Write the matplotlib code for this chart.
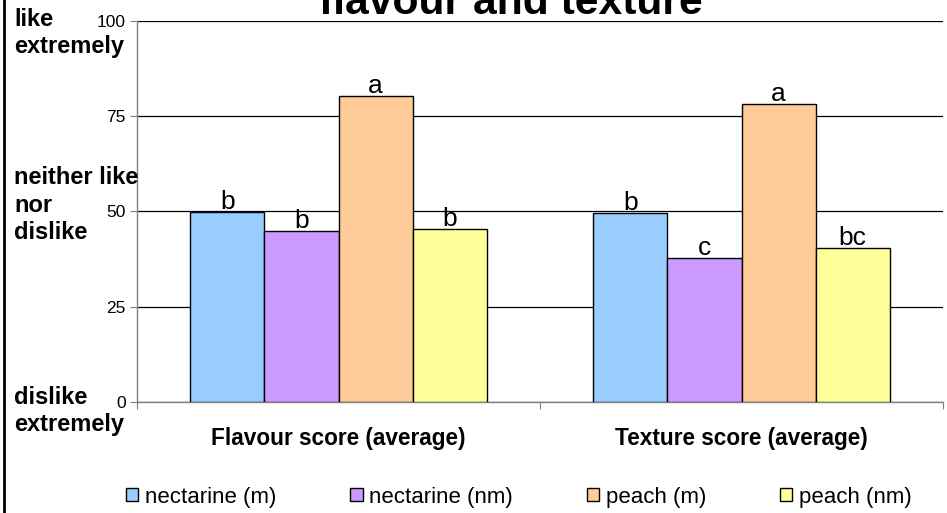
import matplotlib
matplotlib.use("Agg")
import matplotlib.pyplot as plt
import numpy as np
from matplotlib.lines import Line2D

plt.rcParams['font.family'] = ['Liberation Sans', 'DejaVu Sans']

categories = ["Flavour score (average)", "Texture score (average)"]
series = ["nectarine (m)", "nectarine (nm)", "peach (m)", "peach (nm)"]
values = {
    "nectarine (m)": [49.7, 49.6],
    "nectarine (nm)": [44.8, 37.8],
    "peach (m)": [80.2, 78.1],
    "peach (nm)": [45.3, 40.4],
}
letters = {
    "nectarine (m)": ["b", "b"],
    "nectarine (nm)": ["b", "c"],
    "peach (m)": ["a", "a"],
    "peach (nm)": ["b", "bc"],
}
colors = ["#99CCFF", "#CC99FF", "#FFCC99", "#FFFF99"]
yticks = [0, 25, 50, 75, 100]
side_labels = ["like\nextremely", "neither like\nnor\ndislike", "dislike\nextremely"]
side_label_y_px = [33, 205, 411]  # centre of each label block, px from top

W, H = 947, 513
fig = plt.figure(figsize=(W/100, H/100), dpi=100)
ax = fig.add_axes([137/W, 1-402/H, (943-137)/W, (402-20.7)/H])

x = np.arange(len(categories))
n = len(series)
group_w = 0.735
bw = group_w / n
for i, s in enumerate(series):
    pos = x - group_w/2 + bw*(i+0.5)
    bars = ax.bar(pos, values[s], width=bw, color=colors[i], edgecolor='black', linewidth=1.0, label=s, zorder=3)
    for b, lab in zip(bars, letters[s]):
        ax.annotate(lab, xy=(b.get_x()+b.get_width()/2, b.get_height()), xytext=(0, 3),
                    textcoords='offset pixels', ha='center', va='baseline', fontsize=19, zorder=4)

ax.set_xlim(-0.5, len(categories)-0.5)
ax.set_ylim(0, 100)
ax.set_yticks(yticks)
ax.set_yticklabels([str(t) for t in yticks], fontsize=12.5)
ax.yaxis.grid(True, color='black', linewidth=0.9, zorder=0)
ax.set_axisbelow(True)
ax.tick_params(axis='y', direction='out', length=5, color='#808080', pad=3)

ax.set_xticks(np.arange(-0.5, len(categories)), minor=False)
ax.set_xticklabels([])
ax.set_xticks(x, minor=True)
ax.set_xticklabels(categories, minor=True, fontsize=16.3, fontweight='bold')
ax.tick_params(axis='x', which='minor', length=0, pad=18)
ax.tick_params(axis='x', which='major', direction='out', length=5, color='#808080')

for sp in ['top', 'right']:
    ax.spines[sp].set_visible(False)
for sp in ['left', 'bottom']:
    ax.spines[sp].set_color('#808080')
    ax.spines[sp].set_linewidth(1.0)

for txt, ypx in zip(side_labels, side_label_y_px):
    fig.text(14/W, 1-ypx/H, txt, ha='left', va='center', fontsize=17, fontweight='bold', linespacing=1.27)

fig.text(511/W, 1-14/H, "flavour and texture", ha='center', va='baseline', fontsize=30.7, fontweight='bold')

fig.add_artist(Line2D([3.5/W, 3.5/W], [0, 1], color='black', linewidth=2, transform=fig.transFigure))

fig.legend(loc='center', bbox_to_anchor=(519/W, 1-497/H), ncol=4, frameon=False, fontsize=16,
           handlelength=0.55, handleheight=0.55, handletextpad=0.3, columnspacing=3.33)

fig.savefig("out.png", dpi=100)
